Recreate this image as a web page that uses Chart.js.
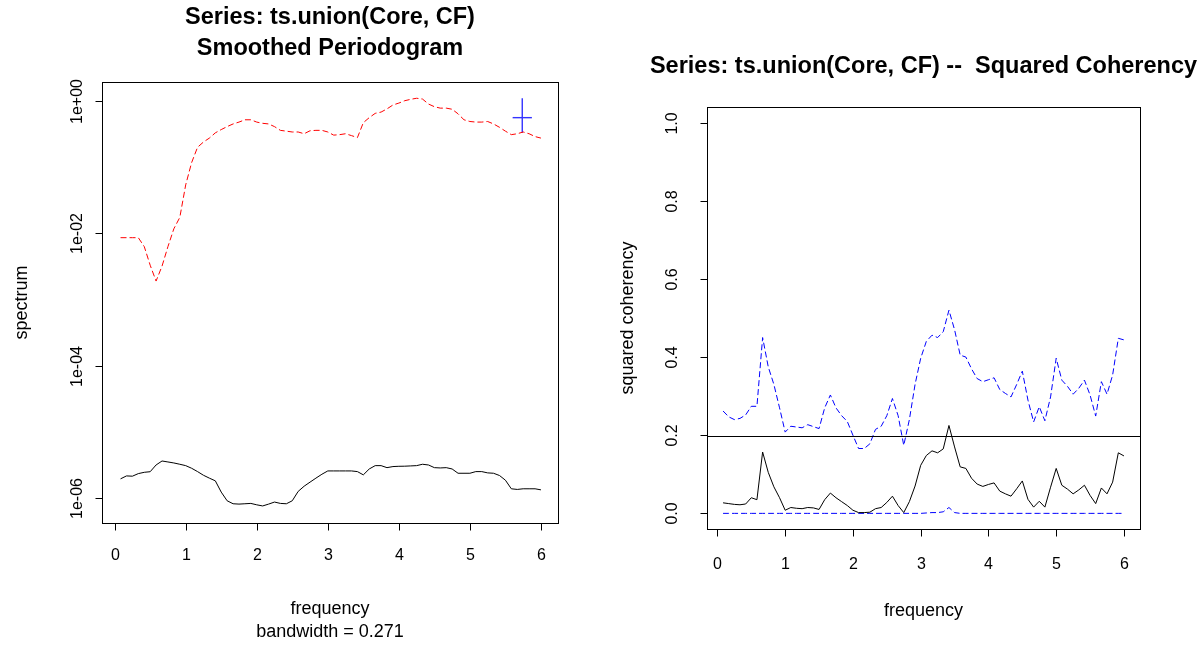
<!DOCTYPE html>
<html>
<head>
<meta charset="utf-8">
<script src="https://cdn.jsdelivr.net/npm/chart.js@4.4.1/dist/chart.umd.min.js"></script>
<style>
  html, body { margin: 0; padding: 0; background: #fff; }
  .panel { position: absolute; top: 0; height: 648px; }
</style>
</head>
<body>
<div class="panel" style="left:0;width:600px"><canvas id="spec" width="600" height="648"></canvas></div>
<div class="panel" style="left:600px;width:599px"><canvas id="coh" width="599" height="648"></canvas></div>
<script>
// frequencies (cycles per unit time)
const freq = [0.083, 0.167, 0.25, 0.333, 0.417, 0.5, 0.583, 0.667, 0.75, 0.833, 0.917, 1,
  1.083, 1.167, 1.25, 1.333, 1.417, 1.5, 1.583, 1.667, 1.75, 1.833, 1.917, 2,
  2.083, 2.167, 2.25, 2.333, 2.417, 2.5, 2.583, 2.667, 2.75, 2.833, 2.917, 3,
  3.083, 3.167, 3.25, 3.333, 3.417, 3.5, 3.583, 3.667, 3.75, 3.833, 3.917, 4,
  4.083, 4.167, 4.25, 4.333, 4.417, 4.5, 4.583, 4.667, 4.75, 4.833, 4.917, 5,
  5.083, 5.167, 5.25, 5.333, 5.417, 5.5, 5.583, 5.667, 5.75, 5.833, 5.917, 6];

// smoothed spectrum of Core, in units of 1e-6
const coreSpec = [1.95, 2.16, 2.14, 2.34, 2.45, 2.5, 3.16, 3.63,
  3.51, 3.39, 3.24, 3.09, 2.82, 2.51, 2.21, 2.0,
  1.82, 1.23, 0.91, 0.82, 0.81, 0.82, 0.83, 0.79,
  0.76, 0.81, 0.87, 0.83, 0.82, 0.91, 1.26, 1.51,
  1.74, 2.0, 2.29, 2.57, 2.57, 2.57, 2.57, 2.57,
  2.51, 2.24, 2.75, 3.09, 3.09, 2.88, 2.99, 3.02,
  3.03, 3.06, 3.09, 3.24, 3.16, 2.88, 2.85, 2.88,
  2.75, 2.37, 2.37, 2.37, 2.51, 2.51, 2.40, 2.37,
  2.19, 1.86, 1.38, 1.35, 1.38, 1.38, 1.38, 1.33];

// smoothed spectrum of CF
const cfSpec = [0.0086, 0.0086, 0.0086, 0.0086, 0.0063, 0.0033, 0.0019, 0.0032,
  0.0063, 0.0117, 0.0174, 0.054, 0.117, 0.20, 0.24, 0.275,
  0.33, 0.37, 0.41, 0.45, 0.48, 0.52, 0.52, 0.48,
  0.46, 0.45, 0.41, 0.36, 0.35, 0.34, 0.34, 0.32,
  0.355, 0.36, 0.36, 0.34, 0.305, 0.31, 0.32, 0.30,
  0.28, 0.47, 0.56, 0.65, 0.68, 0.76, 0.87, 0.93,
  1.01, 1.06, 1.10, 1.07, 0.90, 0.82, 0.78, 0.78,
  0.75, 0.64, 0.52, 0.49, 0.48, 0.48, 0.49, 0.45,
  0.40, 0.35, 0.31, 0.32, 0.34, 0.32, 0.29, 0.275];

// confidence cross
const crossFreq = 5.737;
const crossSpec = 0.56;
const crossLow = 0.33;
const crossHigh = 1.10;
const bandwidth = 0.271;

// squared coherency and its confidence limits
const coh = [0.027, 0.025, 0.023, 0.022, 0.024, 0.040, 0.035, 0.157,
  0.105, 0.068, 0.040, 0.008, 0.015, 0.013, 0.012, 0.015,
  0.014, 0.010, 0.035, 0.052, 0.040, 0.030, 0.020, 0.008,
  0.002, 0.002, 0.003, 0.012, 0.015, 0.028, 0.044, 0.020,
  0.002, 0.030, 0.070, 0.123, 0.148, 0.160, 0.155, 0.165,
  0.225, 0.170, 0.119, 0.115, 0.090, 0.075, 0.069, 0.074,
  0.078, 0.057, 0.050, 0.044, 0.063, 0.083, 0.036, 0.016,
  0.031, 0.016, 0.067, 0.115, 0.072, 0.062, 0.050, 0.060,
  0.072, 0.046, 0.025, 0.065, 0.050, 0.080, 0.155, 0.147];

const cohUpper = [0.262, 0.247, 0.240, 0.243, 0.252, 0.274, 0.274, 0.450,
  0.375, 0.330, 0.270, 0.208, 0.223, 0.221, 0.219, 0.227,
  0.222, 0.217, 0.270, 0.303, 0.270, 0.250, 0.235, 0.200,
  0.166, 0.166, 0.178, 0.215, 0.223, 0.250, 0.294, 0.250,
  0.174, 0.240, 0.330, 0.397, 0.440, 0.456, 0.450, 0.465,
  0.520, 0.470, 0.405, 0.400, 0.370, 0.345, 0.337, 0.342,
  0.347, 0.317, 0.307, 0.298, 0.330, 0.364, 0.290, 0.234,
  0.273, 0.237, 0.298, 0.397, 0.341, 0.325, 0.305, 0.320,
  0.341, 0.303, 0.249, 0.337, 0.305, 0.354, 0.448, 0.444];

const cohLower = [0, 0, 0, 0, 0, 0, 0, 0, 0, 0, 0, 0,
  0, 0, 0, 0, 0, 0, 0, 0, 0, 0, 0, 0,
  0, 0, 0, 0, 0, 0, 0, 0, 0, 0, 0, 0,
  0.001, 0.002, 0.002, 0.004, 0.015, 0.002, 0, 0, 0, 0, 0, 0,
  0, 0, 0, 0, 0, 0, 0, 0, 0, 0, 0, 0,
  0, 0, 0, 0, 0, 0, 0, 0, 0, 0, 0, 0];

const cohThreshold = 0.198;

// axis ticks
const freqTicks = [0, 1, 2, 3, 4, 5, 6];
const specTicks = [1e-6, 1e-4, 1e-2, 1];
const specTickLabels = ['1e-06', '1e-04', '1e-02', '1e+00'];
const cohTicks = [0, 0.2, 0.4, 0.6, 0.8, 1];
const cohTickLabels = ['0.0', '0.2', '0.4', '0.6', '0.8', '1.0'];

const FONT = '"Liberation Sans", Arial, Helvetica, sans-serif';
const pts = (ys, k = 1) => freq.map((f, i) => ({ x: f, y: ys[i] * k }));

// R-like box, axes and annotations
const rFrame = {
  id: 'rframe',
  afterDraw(chart, args, o) {
    const { ctx, chartArea: a, scales: { x, y } } = chart;
    ctx.save();
    ctx.strokeStyle = '#000';
    ctx.fillStyle = '#000';
    ctx.lineWidth = 1;

    if (o.hline !== undefined) {
      const hy = Math.round(y.getPixelForValue(o.hline)) + 0.5;
      ctx.beginPath();
      ctx.moveTo(a.left, hy);
      ctx.lineTo(a.right, hy);
      ctx.stroke();
    }

    ctx.strokeRect(Math.round(a.left) + 0.5, Math.round(a.top) + 0.5,
      Math.round(a.right - a.left), Math.round(a.bottom - a.top));

    // x axis
    const by = Math.round(a.bottom) + 0.5;
    const xp = o.xTicks.map(t => Math.round(x.getPixelForValue(t)) + 0.5);
    ctx.beginPath();
    ctx.moveTo(xp[0], by);
    ctx.lineTo(xp[xp.length - 1], by);
    xp.forEach(px => { ctx.moveTo(px, by); ctx.lineTo(px, by + 7); });
    ctx.stroke();
    ctx.font = '16px ' + FONT;
    ctx.textAlign = 'center';
    ctx.textBaseline = 'middle';
    o.xTicks.forEach((t, i) => ctx.fillText(String(t), xp[i], o.xLabelY));

    // y axis
    const lx = Math.round(a.left) + 0.5;
    const yp = o.yTicks.map(t => Math.round(y.getPixelForValue(t)) + 0.5);
    ctx.beginPath();
    ctx.moveTo(lx, yp[0]);
    ctx.lineTo(lx, yp[yp.length - 1]);
    yp.forEach(py => { ctx.moveTo(lx, py); ctx.lineTo(lx - 7, py); });
    ctx.stroke();
    o.yLabels.forEach((s, i) => {
      ctx.save();
      ctx.translate(a.left - o.yLabelGap, yp[i]);
      ctx.rotate(-Math.PI / 2);
      ctx.fillText(s, 0, 0);
      ctx.restore();
    });

    // axis titles
    ctx.font = '18px ' + FONT;
    const cx = (a.left + a.right) / 2;
    o.xTitle.forEach((s, i) => ctx.fillText(s, cx, o.xTitleY + i * 23));
    ctx.save();
    ctx.translate(o.yTitleX, (a.top + a.bottom) / 2);
    ctx.rotate(-Math.PI / 2);
    ctx.fillText(o.yTitle, 0, 0);
    ctx.restore();

    // main title
    ctx.font = 'bold 23.5px ' + FONT;
    o.title.forEach((s, i) => ctx.fillText(s, cx, o.titleY + i * 31));
    ctx.restore();
  }
};

const baseOpts = {
  responsive: false,
  animation: false,
  devicePixelRatio: 1,
  events: [],
  elements: { point: { radius: 0 }, line: { borderWidth: 1, tension: 0 } },
};

new Chart(document.getElementById('spec'), {
  type: 'line',
  data: {
    datasets: [
      { data: pts(coreSpec, 1e-6), borderColor: '#000' },
      { data: pts(cfSpec), borderColor: '#ff0000', borderDash: [6, 3] },
      { data: [{ x: crossFreq, y: crossLow }, { x: crossFreq, y: crossHigh }], borderColor: '#3333ff', borderWidth: 1.4 },
      { data: [{ x: crossFreq - bandwidth / 2, y: crossSpec }, { x: crossFreq + bandwidth / 2, y: crossSpec }], borderColor: '#3333ff', borderWidth: 1.4 },
    ]
  },
  options: {
    ...baseOpts,
    layout: { padding: { left: 102, right: 42, top: 82, bottom: 125 } },
    scales: {
      x: { type: 'linear', display: false, min: -0.178, max: 6.24 },
      y: { type: 'logarithmic', display: false, min: Math.pow(10, -6.377), max: Math.pow(10, 0.287) },
    },
    plugins: {
      legend: { display: false },
      tooltip: { enabled: false },
      rframe: {
        xTicks: freqTicks, xLabelY: 556,
        yTicks: specTicks, yLabels: specTickLabels, yLabelGap: 24,
        xTitle: ['frequency', 'bandwidth = ' + bandwidth], xTitleY: 609,
        yTitle: 'spectrum', yTitleX: 22,
        title: ['Series: ts.union(Core, CF)', 'Smoothed Periodogram'], titleY: 18,
      }
    }
  },
  plugins: [rFrame]
});

new Chart(document.getElementById('coh'), {
  type: 'line',
  data: {
    datasets: [
      { data: pts(coh), borderColor: '#000' },
      { data: pts(cohUpper), borderColor: '#0000ff', borderDash: [6, 3] },
      { data: pts(cohLower), borderColor: '#0000ff', borderDash: [6, 3] },
    ]
  },
  options: {
    ...baseOpts,
    layout: { padding: { left: 107, right: 59, top: 107, bottom: 119 } },
    scales: {
      x: { type: 'linear', display: false, min: -0.154, max: 6.237 },
      y: { type: 'linear', display: false, min: -0.04, max: 1.04 },
    },
    plugins: {
      legend: { display: false },
      tooltip: { enabled: false },
      rframe: {
        hline: cohThreshold,
        xTicks: freqTicks, xLabelY: 565,
        yTicks: cohTicks, yLabels: cohTickLabels, yLabelGap: 34,
        xTitle: ['frequency'], xTitleY: 611,
        yTitle: 'squared coherency', yTitleX: 28,
        title: ['Series: ts.union(Core, CF) --  Squared Coherency'], titleY: 67,
      }
    }
  },
  plugins: [rFrame]
});
</script>
</body>
</html>
